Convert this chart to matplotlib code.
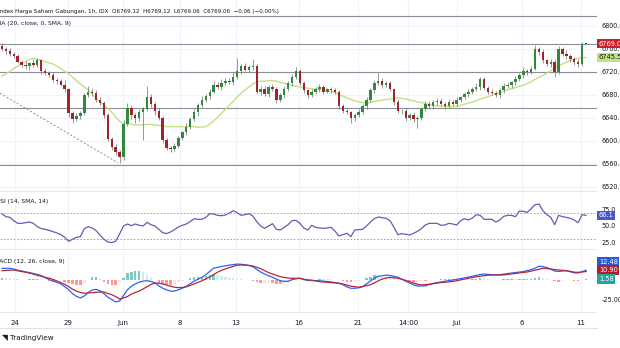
import matplotlib.pyplot as plt
import numpy as np

# hourly closes, IHSG
closes = [
    6760, 6757, 6752, 6748, 6738, 6733, 6730, 6735, 6732, 6740,
    6722, 6718, 6714, 6706, 6704, 6698, 6690, 6648, 6638, 6644,
    6648, 6680, 6686, 6684, 6672, 6666, 6645, 6604, 6590, 6580,
    6572, 6630, 6658, 6645, 6640, 6650, 6656, 6676, 6664, 6652,
    6640, 6602, 6588, 6586, 6592, 6605, 6615, 6625, 6638, 6650,
    6662, 6672, 6678, 6686, 6698, 6694, 6700, 6705, 6703, 6712,
    6722, 6730, 6724, 6728, 6730, 6686, 6690, 6682, 6694, 6690,
    6672, 6680, 6690, 6700, 6712, 6722, 6700, 6688, 6680, 6685,
    6690, 6694, 6686, 6690, 6688, 6686, 6660, 6652, 6650, 6640,
    6645, 6650, 6660, 6672, 6688, 6700, 6705, 6698, 6700, 6690,
    6668, 6652, 6652, 6640, 6645, 6638, 6640, 6655, 6665, 6660,
    6668, 6670, 6664, 6660, 6668, 6665, 6672, 6676, 6682, 6686,
    6690, 6694, 6708, 6692, 6686, 6684, 6680, 6688, 6695, 6698,
    6702, 6708, 6714, 6722, 6720, 6726, 6760, 6755, 6740, 6734,
    6738, 6720, 6760, 6752, 6748, 6742, 6738, 6734, 6769.12, 6769.06,
]
first_open = 6766
upper_wick = [
    4, 3, 5, 3, 4, 3, 6, 3, 8, 4,
    3, 5, 4, 6, 3, 4, 8, 3, 5, 4,
    5, 4, 9, 6, 4, 5, 3, 4, 3, 5,
    4, 6, 8, 5, 4, 6, 3, 19, 6, 4,
    5, 3, 4, 3, 5, 4, 3, 6, 4, 5,
    4, 6, 3, 5, 6, 4, 7, 4, 5, 8,
    23, 4, 6, 5, 13, 4, 5, 6, 4, 5,
    4, 3, 5, 4, 5, 6, 4, 5, 3, 6,
    4, 5, 4, 3, 4, 5, 3, 4, 5, 3,
    4, 5, 4, 5, 4, 6, 13, 4, 5, 4,
    3, 5, 4, 6, 4, 5, 3, 4, 5, 4,
    3, 5, 4, 3, 5, 4, 5, 3, 4, 5,
    4, 6, 4, 3, 4, 5, 3, 4, 5, 4,
    3, 5, 4, 6, 4, 5, 7, 4, 5, 3,
    4, 5, 5, 4, 6, 3, 4, 5, 3, 0,
]
lower_wick = [
    3, 5, 4, 4, 3, 5, 4, 6, 3, 4,
    5, 4, 3, 4, 5, 3, 4, 6, 7, 4,
    5, 3, 4, 5, 4, 3, 5, 4, 6, 4,
    10, 5, 4, 6, 8, 5, 48, 4, 5, 6,
    4, 5, 4, 6, 4, 5, 3, 4, 5, 4,
    6, 3, 4, 5, 3, 4, 5, 3, 4, 5,
    4, 5, 3, 4, 5, 4, 6, 4, 5, 3,
    6, 4, 5, 3, 4, 5, 3, 4, 5, 4,
    3, 5, 4, 3, 5, 4, 5, 4, 3, 9,
    5, 4, 3, 4, 5, 4, 3, 5, 4, 3,
    5, 4, 5, 6, 4, 5, 16, 4, 3, 5,
    4, 5, 4, 5, 3, 4, 5, 4, 3, 5,
    4, 3, 5, 4, 5, 4, 3, 5, 4, 3,
    5, 4, 3, 4, 5, 4, 3, 5, 4, 3,
    5, 9, 3, 4, 5, 4, 6, 5, 4, 0,
]
sma20 = [
    6713, 6717, 6721, 6726, 6730, 6734, 6738, 6742, 6744, 6742,
    6740, 6738, 6736, 6734, 6730, 6726, 6721, 6717, 6711, 6705,
    6699, 6694, 6689, 6682, 6674, 6668, 6662, 6657, 6650, 6642,
    6634, 6631, 6630, 6629, 6628, 6628, 6628, 6629, 6629, 6628,
    6627, 6626, 6625, 6625, 6625, 6625, 6625, 6625, 6625, 6625,
    6624, 6624, 6625, 6629, 6635, 6641, 6648, 6655, 6662, 6669,
    6677, 6683, 6689, 6694, 6699, 6703, 6704, 6704, 6705, 6705,
    6704, 6702, 6700, 6699, 6697, 6695, 6694, 6693, 6692, 6691,
    6690, 6689, 6688, 6687, 6686, 6684, 6681, 6678, 6675, 6672,
    6670, 6668, 6667, 6666, 6667, 6669, 6670, 6671, 6672, 6673,
    6674, 6675, 6674, 6673, 6671, 6670, 6668, 6667, 6665, 6664,
    6662, 6661, 6660, 6660, 6660, 6660, 6660, 6662, 6664, 6666,
    6668, 6670, 6673, 6675, 6677, 6680, 6682, 6684, 6687, 6689,
    6691, 6693, 6695, 6697, 6700, 6703, 6707, 6711, 6714, 6718,
    6722, 6727, 6731, 6734, 6737, 6740, 6742, 6744, 6745, 6745.5,
]
rsi = [
    68, 64, 63, 58, 54, 54, 55, 56, 54, 49,
    46, 45, 43.5, 41.5, 39.5, 37, 33, 27, 30, 33,
    34, 46, 49, 47, 43, 36.5, 30, 26, 25, 27,
    38, 50, 53, 50.5, 53, 51, 50, 55.5, 52, 50,
    45, 40, 38.5, 41, 44.5, 48.5, 51, 53, 56.5, 61,
    60, 60, 63, 68.5, 68, 66, 65.5, 66.5, 69.5, 73,
    70, 66, 67, 68.5, 65, 56.5, 50, 46.5, 50, 53.5,
    45, 44, 48, 52, 58, 58.5, 54, 47, 44, 51,
    48, 47, 46.5, 47, 48, 42, 35, 37, 39, 34,
    44, 44.5, 45, 50, 56, 61, 63.5, 62.5, 61.5, 58,
    48, 37, 38.5, 37.5, 36.5, 39, 42, 46, 51.5, 54,
    54, 54, 51, 51.5, 54, 53, 51.5, 58, 61, 59,
    62, 67, 66, 60, 60, 60, 56, 59, 64.5, 66,
    66, 64, 72.5, 72, 70.5, 76, 82, 83, 73, 67,
    63, 52, 66, 64, 63, 61.5, 59, 55, 67, 66.1,
]
macd = [
    15, 15, 15, 14, 12.6, 11.5, 10.5, 9.5, 8.4, 7.2,
    5.7, 3, 0.6, -1.3, -3, -5, -8.5, -12.5, -17.5, -21,
    -23, -20.5, -16, -12.8, -12, -13.8, -17.5, -22, -25, -28,
    -27, -20, -12.5, -8, -5, -2.7, -1.5, -0.9, -1.8, -3.5,
    -7.5, -10.5, -12.6, -14.3, -14.2, -12.6, -10.5, -8.2, -4.7, -1.5,
    1, 3.5, 6.8, 11, 15.2, 16.3, 17.3, 18.2, 19.1, 19.8,
    20.4, 20.2, 19.5, 18.5, 17, 13.5, 10.2, 7.7, 5.5, 3.6,
    1.2, -1, -1.7, -1.7, 0.5, 1.5, 2.2, 0.5, -0.5, -0.7,
    -0.8, -0.9, -1.4, -1.9, -2.5, -3.3, -4.2, -6, -8.8, -10.6,
    -10.6, -10, -8.6, -5, -1.5, 2.3, 4.7, 5.4, 6.3, 5.7,
    4.8, 3.5, 1, -1.5, -4, -6.2, -7.7, -7.7, -7.5, -5.8,
    -4.2, -3.4, -2.5, -1.6, -0.7, 0, 0.9, 1.8, 2.7, 3.8,
    5, 6, 7.1, 7.6, 7.2, 6.8, 6.5, 6.9, 7.6, 8.3,
    8.9, 9.6, 10.2, 10.8, 12, 13.3, 15.2, 17.7, 17.2, 16,
    14, 11.5, 10.9, 11.6, 11.9, 10.5, 9.2, 9, 10.6, 12.48,
]
signal = [
    12, 12.2, 12.5, 12.8, 11.8, 10.9, 10, 8.8, 7.6, 6,
    4.9, 3.5, 2.3, 0.9, -1.2, -3.3, -5.5, -8.5, -11.8, -14.2,
    -16, -17, -16.6, -16.2, -15.8, -15.4, -15.3, -17.3, -18.8, -21.2,
    -24.5, -23, -21.2, -18.1, -16, -14.2, -11.5, -8.6, -5.7, -4,
    -4, -5, -6.5, -8, -9.2, -9.8, -9.6, -8.8, -7, -5,
    -3, -1, 1.5, 4, 6.9, 10, 12.5, 14.3, 16, 17.5,
    19, 19.2, 19.2, 18.8, 17.9, 16.3, 14.5, 12, 9.5, 7.8,
    6, 4.2, 3.4, 2.5, 2.2, 2.2, 2.2, 1, 0.2, -0.2,
    -1.2, -2.1, -2.5, -2.8, -3.2, -3.7, -4.2, -5.2, -6.5, -7.9,
    -8.6, -9.2, -8.3, -7.3, -6, -3.8, -1, 1.2, 2.7, 3.3,
    2.8, 2.3, 1, -0.5, -2.2, -3.8, -5.5, -6.3, -5.9, -5.5,
    -4.8, -4, -3.3, -2.9, -2.4, -1.7, -1, 0.2, 1.2, 2.3,
    3.3, 4.2, 4.9, 5.5, 6.1, 6.4, 6.4, 6.4, 6.5, 7.2,
    7.8, 8.5, 9.1, 9.7, 10.3, 11.5, 12.8, 14, 15, 14.6,
    14, 13.4, 12.9, 12.4, 11.9, 11.1, 10, 9.8, 10.3, 10.9,
]

date_pos = [3.3, 16.8, 30.9, 45.4, 59.7, 75.8, 90.8, 103.6, 116.1, 132.7, 147.7]
date_labels = ['24', '29', 'Jun', '8', '13', '16', '21', '14:00', 'Jul', '6', '11']
price_ticks = [6520, 6560, 6600, 6640, 6680, 6720, 6760, 6800]
level_lines = [6817, 6769, 6720, 6657, 6558]
trend_x = [-0.5, 29.6]
trend_y = [6683, 6562]

W, H = 620, 348
TXT = '#131722'
GRID = '#f0f3fa'
fig = plt.figure(figsize=(W / 100, H / 100), dpi=100)


def pane(top, bottom):
    a = fig.add_axes([0, 1 - bottom / H, 597 / W, (bottom - top) / H])
    for s in a.spines.values():
        s.set_visible(False)
    a.set_xlim(-0.51, 151.8)
    a.yaxis.tick_right()
    a.tick_params(axis='y', length=0, pad=3.2, labelsize=4.7, labelcolor=TXT)
    a.tick_params(axis='x', length=0, labelbottom=False)
    for p in date_pos:
        a.axvline(p, color=GRID, lw=0.8, zorder=0)
    return a


def tag(a, y, text, fc, tc='white'):
    a.text(1.003, y, text, transform=a.get_yaxis_transform(), ha='left', va='center',
           fontsize=4.8, color=tc, clip_on=False, zorder=5,
           bbox=dict(boxstyle='square,pad=0.25', fc=fc, ec='none'))


x = np.arange(len(closes))
c = np.array(closes, dtype=float)
o = np.array([first_open] + closes[:-1], dtype=float)
hi = np.maximum(o, c) + np.array(upper_wick)
lo = np.minimum(o, c) - np.array(lower_wick)
col = np.where(c >= o, '#2f8a3c', '#a3232b')

# price pane
ax = pane(0, 192)
ax.set_ylim(6511.3, 6845.2)
ax.set_yticks(price_ticks, [f'{p:.1f}' for p in price_ticks])
for p in price_ticks:
    ax.axhline(p, color=GRID, lw=0.8, zorder=0)
for p in level_lines:
    ax.axhline(p, color='#8c8f98', lw=0.8, zorder=1)
ax.plot(trend_x, trend_y, color='#8c8f98', lw=0.7, ls=(0, (2, 2)), zorder=1)
ax.plot(x, sma20, color='#c4df86', lw=1.0, zorder=2)
ax.vlines(x, lo, hi, color='#6b6e76', lw=0.5, zorder=3)
ax.bar(x, np.maximum(np.abs(c - o), 0.8), bottom=np.minimum(o, c), width=0.62,
       color=col, zorder=4)
tag(ax, 6769.06, '6769.06', '#c8232c')
tag(ax, 6745.5, '6745.5', '#bfe283', TXT)
ax.axhline(6511.3, color='#e0e3eb', lw=1.2)

# RSI pane
ar = pane(193, 250)
ar.set_ylim(13.9, 99.6)
ar.set_yticks([25, 50, 75], ['25.0', '50.0', '75.0'])
for lv in (70, 30):
    ar.axhline(lv, color='#9598a1', lw=0.6, ls=(0, (2, 2)))
ar.plot(x, rsi, color='#5d61b0', lw=0.9)
tag(ar, 66.1, '66.1', '#4b57c7')
ar.axhline(13.9, color='#e0e3eb', lw=1.2)

# MACD pane
am = pane(251, 313)
am.set_ylim(-42.3, 37.2)
am.set_yticks([-25], ['-25.00'])
hist = np.array(macd) - np.array(signal)
prev = np.concatenate([[hist[0]], hist[:-1]])
hcol = np.where(hist >= 0, np.where(hist >= prev, '#26a69a', '#b2dfdb'),
                np.where(hist <= prev, '#ff5252', '#ffcdd2'))
am.bar(x, hist, width=0.62, color=hcol, alpha=0.6)
am.plot(x, macd, color='#2962ff', lw=0.9)
am.plot(x, signal, color='#b22833', lw=0.9)
tag(am, 23.1, '12.48', '#2a5bd7')
tag(am, 12.8, '10.90', '#b0202a')
tag(am, 1.3, '1.58', '#26a69a')
am.set_xticks(date_pos, date_labels)
am.tick_params(axis='x', labelbottom=True, labelsize=5, labelcolor=TXT, pad=5)
am.axhline(-42.3, color='#e0e3eb', lw=1.2)
fig.add_artist(plt.Line2D([0, 597 / W], [1 - 328 / H] * 2, color='#e0e3eb', lw=0.8))

# legends
fig.text(-2 / W, 1 - 11 / H,
         'Index Harga Saham Gabungan, 1h, IDX  O6769.12  H6769.12  L6769.06  C6769.06  \u22120.06 (\u22120.00%)',
         fontsize=4.1, color=TXT, va='center')
fig.text(-4 / W, 1 - 23 / H, 'MA (20, close, 0, SMA, 9)', fontsize=4.3, color=TXT, va='center')
fig.text(-4 / W, 1 - 201 / H, 'RSI (14, SMA, 14)', fontsize=4.3, color=TXT, va='center')
fig.text(-6 / W, 1 - 262 / H, 'MACD (12, 26, close, 9)', fontsize=4.3, color=TXT, va='center')
fig.text(2 / W, 1 - 338 / H, '\u25e5', fontsize=5.5, color=TXT, va='center', fontweight='bold')
fig.text(10 / W, 1 - 338 / H, 'TradingView', fontsize=5.2, color=TXT, va='center')

fig.savefig('out.png', dpi=100)
